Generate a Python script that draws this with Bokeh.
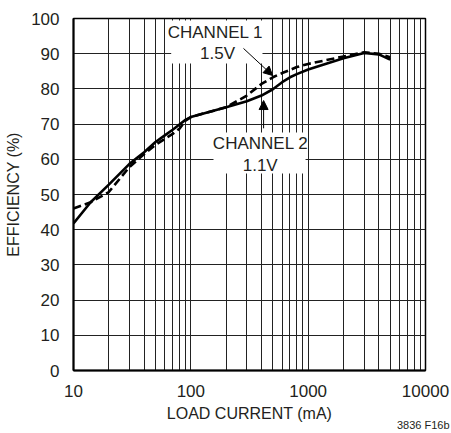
from bokeh.plotting import figure
from bokeh.models import (FixedTicker, Label, Arrow, NormalHead, BoxAnnotation, Range1d, Title)
from bokeh.embed import file_html
from bokeh.resources import INLINE

# Data
current_ma = [10, 14, 20, 30, 40, 50, 60, 70, 80, 90, 100, 200, 300, 400, 500, 600, 700, 800, 1000, 2000, 3000, 4000, 5000]
ch2_eff = [41.8, 47.8, 52.8, 58.7, 62.0, 64.9, 66.8, 68.4, 69.9, 71.2, 72.0, 74.8, 76.5, 78.1, 79.9, 81.9, 83.3, 84.2, 85.5, 88.7, 90.2, 89.8, 88.3]
ch1_eff = [46.0, 47.8, 50.7, 57.8, 61.5, 64.1, 65.8, 67.2, 68.7, 71.0, 72.0, 74.8, 78.1, 81.4, 83.3, 84.5, 85.4, 86.2, 87.1, 89.2, 90.4, 90.0, 89.0]

x_major = [10, 100, 1000, 10000]
x_minor = [m * d for d in (10, 100, 1000) for m in range(2, 10)]
y_major = list(range(0, 101, 10))

FONT = "Liberation Sans"
TXT = "#231f20"

p = figure(width=451, height=433, x_axis_type="log", output_backend="svg",
           toolbar_location=None, x_range=Range1d(10, 10000), y_range=Range1d(0, 100),
           min_border_left=73, min_border_right=26, min_border_top=18, min_border_bottom=63)

p.xaxis.ticker = FixedTicker(ticks=x_major, minor_ticks=x_minor)
p.yaxis.ticker = FixedTicker(ticks=y_major)
p.xaxis.major_label_overrides = {10: "10", 100: "100", 1000: "1000", 10000: "10000"}

for ax in (p.xaxis[0], p.yaxis[0]):
    ax.major_tick_line_color = None
    ax.minor_tick_line_color = None
    ax.axis_line_color = "black"
    ax.axis_line_width = 2
    ax.major_label_text_font = FONT
    ax.major_label_text_font_size = "17px"
    ax.major_label_text_color = TXT
    ax.axis_label_text_font = FONT
    ax.axis_label_text_font_size = "16px"
    ax.axis_label_text_font_style = "normal"
    ax.axis_label_text_color = TXT
    ax.major_label_standoff = 8

p.xaxis.axis_label = "LOAD CURRENT (mA)"
p.yaxis.axis_label = "EFFICIENCY (%)"
p.xaxis.axis_label_standoff = 5
p.yaxis.axis_label_standoff = 6

p.xgrid.grid_line_color = "#222222"
p.xgrid.grid_line_width = 1
p.xgrid.minor_grid_line_color = "#222222"
p.xgrid.minor_grid_line_width = 1
p.ygrid.grid_line_color = "#222222"
p.ygrid.grid_line_width = 1

p.outline_line_color = "black"
p.outline_line_width = 1.5
p.background_fill_color = "white"
p.border_fill_color = "white"

# white boxes behind the labels
p.add_layout(BoxAnnotation(left=68, right=408, bottom=87.2, top=99.4,
                           fill_color="white", fill_alpha=1, line_color=None, level="glyph"))
p.add_layout(BoxAnnotation(left=156, right=950, bottom=56, top=67.6,
                           fill_color="white", fill_alpha=1, line_color=None, level="glyph"))

p.line(current_ma, ch2_eff, line_color="black", line_width=2.6)
p.line(current_ma, ch1_eff, line_color="black", line_width=2.6, line_dash="8 4")

def lab(x, y, t):
    p.add_layout(Label(x=x, y=y, text=t, text_align="center", text_baseline="middle",
                       text_font=FONT, text_font_size="17px", text_color=TXT))

lab(162, 96.0, "CHANNEL 1")
lab(169, 90.0, "1.5V")
lab(393, 64.4, "CHANNEL 2")
lab(390, 58.2, "1.1V")

p.add_layout(Arrow(x_start=281, y_start=91.5, x_end=498, y_end=83.8,
                   line_color="black", line_width=1,
                   end=NormalHead(size=9, fill_color="black", line_color="black")))
p.add_layout(Arrow(x_start=417, y_start=68.8, x_end=417, y_end=76.7,
                   line_color="black", line_width=1,
                   end=NormalHead(size=9, fill_color="black", line_color="black")))

p.add_layout(Title(text="3836 F16b", align="right", offset=-24, standoff=-12,
                   vertical_align="top",
                   text_font=FONT, text_font_size="11px", text_font_style="normal",
                   text_color=TXT), "below")

open("out.html", "w").write(file_html(p, INLINE))
